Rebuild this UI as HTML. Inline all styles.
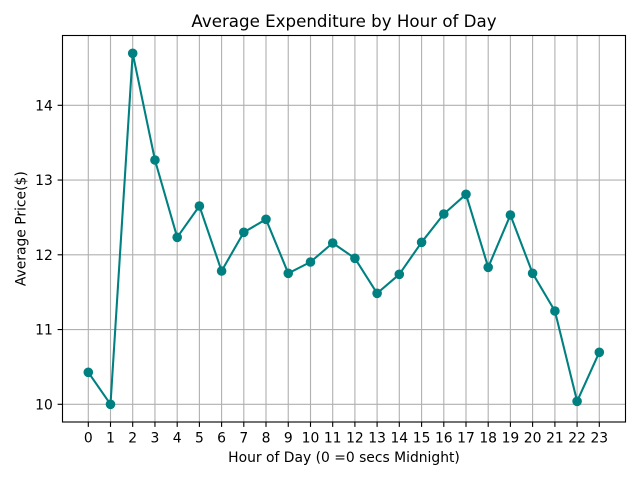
<!DOCTYPE html>
<html>
<head>
<meta charset="utf-8">
<style>
  html, body { margin: 0; padding: 0; background: #ffffff; }
  svg { display: block; }
  text { font-family: "DejaVu Sans", "Liberation Sans", sans-serif; fill: #000; }
</style>
</head>
<body>
<svg width="640" height="480" viewBox="0 0 640 480" xmlns="http://www.w3.org/2000/svg">
  <rect x="0" y="0" width="640" height="480" fill="#ffffff"/>
  <!-- vertical grid -->
  <g stroke="#b0b0b0" stroke-width="1.11">
    <line x1="88.3" y1="35.5" x2="88.3" y2="422"/>
    <line x1="110.5" y1="35.5" x2="110.5" y2="422"/>
    <line x1="132.7" y1="35.5" x2="132.7" y2="422"/>
    <line x1="154.95" y1="35.5" x2="154.95" y2="422"/>
    <line x1="177.2" y1="35.5" x2="177.2" y2="422"/>
    <line x1="199.4" y1="35.5" x2="199.4" y2="422"/>
    <line x1="221.6" y1="35.5" x2="221.6" y2="422"/>
    <line x1="243.8" y1="35.5" x2="243.8" y2="422"/>
    <line x1="266.0" y1="35.5" x2="266.0" y2="422"/>
    <line x1="288.25" y1="35.5" x2="288.25" y2="422"/>
    <line x1="310.5" y1="35.5" x2="310.5" y2="422"/>
    <line x1="332.7" y1="35.5" x2="332.7" y2="422"/>
    <line x1="354.9" y1="35.5" x2="354.9" y2="422"/>
    <line x1="377.1" y1="35.5" x2="377.1" y2="422"/>
    <line x1="399.3" y1="35.5" x2="399.3" y2="422"/>
    <line x1="421.6" y1="35.5" x2="421.6" y2="422"/>
    <line x1="443.8" y1="35.5" x2="443.8" y2="422"/>
    <line x1="466.0" y1="35.5" x2="466.0" y2="422"/>
    <line x1="488.2" y1="35.5" x2="488.2" y2="422"/>
    <line x1="510.4" y1="35.5" x2="510.4" y2="422"/>
    <line x1="532.6" y1="35.5" x2="532.6" y2="422"/>
    <line x1="554.9" y1="35.5" x2="554.9" y2="422"/>
    <line x1="577.1" y1="35.5" x2="577.1" y2="422"/>
    <line x1="599.3" y1="35.5" x2="599.3" y2="422"/>
  </g>
  <!-- horizontal grid -->
  <g stroke="#b0b0b0" stroke-width="1.11">
    <line x1="62.5" y1="404.3" x2="625.5" y2="404.3"/>
    <line x1="62.5" y1="329.55" x2="625.5" y2="329.55"/>
    <line x1="62.5" y1="254.8" x2="625.5" y2="254.8"/>
    <line x1="62.5" y1="180.05" x2="625.5" y2="180.05"/>
    <line x1="62.5" y1="105.3" x2="625.5" y2="105.3"/>
  </g>
  <!-- series -->
  <polyline fill="none" stroke="#008080" stroke-width="2.08" stroke-linejoin="round" stroke-linecap="square"
    points="88.3,372.3 110.5,404.3 132.7,53.3 154.95,160 177.2,237.3 199.4,206 221.6,271 243.8,232.3 266.0,219.3 288.25,273.3 310.5,262 332.7,243 354.9,258.3 377.1,293.3 399.3,274.3 421.6,242.3 443.8,214 466.0,194.3 488.2,267.3 510.4,215 532.6,273.3 554.9,311 577.1,401.3 599.3,352.3"/>
  <g fill="#008080">
    <circle cx="88.3" cy="372.3" r="4.8"/>
    <circle cx="110.5" cy="404.3" r="4.8"/>
    <circle cx="132.7" cy="53.3" r="4.8"/>
    <circle cx="154.95" cy="160" r="4.8"/>
    <circle cx="177.2" cy="237.3" r="4.8"/>
    <circle cx="199.4" cy="206" r="4.8"/>
    <circle cx="221.6" cy="271" r="4.8"/>
    <circle cx="243.8" cy="232.3" r="4.8"/>
    <circle cx="266.0" cy="219.3" r="4.8"/>
    <circle cx="288.25" cy="273.3" r="4.8"/>
    <circle cx="310.5" cy="262" r="4.8"/>
    <circle cx="332.7" cy="243" r="4.8"/>
    <circle cx="354.9" cy="258.3" r="4.8"/>
    <circle cx="377.1" cy="293.3" r="4.8"/>
    <circle cx="399.3" cy="274.3" r="4.8"/>
    <circle cx="421.6" cy="242.3" r="4.8"/>
    <circle cx="443.8" cy="214" r="4.8"/>
    <circle cx="466.0" cy="194.3" r="4.8"/>
    <circle cx="488.2" cy="267.3" r="4.8"/>
    <circle cx="510.4" cy="215" r="4.8"/>
    <circle cx="532.6" cy="273.3" r="4.8"/>
    <circle cx="554.9" cy="311" r="4.8"/>
    <circle cx="577.1" cy="401.3" r="4.8"/>
    <circle cx="599.3" cy="352.3" r="4.8"/>
  </g>
  <!-- spines -->
  <rect x="62.5" y="35.5" width="563" height="386.5" fill="none" stroke="#000" stroke-width="1.11"/>
  <!-- x ticks -->
  <g stroke="#000" stroke-width="1.11">
    <line x1="88.3" y1="422" x2="88.3" y2="426.9"/>
    <line x1="110.5" y1="422" x2="110.5" y2="426.9"/>
    <line x1="132.7" y1="422" x2="132.7" y2="426.9"/>
    <line x1="154.95" y1="422" x2="154.95" y2="426.9"/>
    <line x1="177.2" y1="422" x2="177.2" y2="426.9"/>
    <line x1="199.4" y1="422" x2="199.4" y2="426.9"/>
    <line x1="221.6" y1="422" x2="221.6" y2="426.9"/>
    <line x1="243.8" y1="422" x2="243.8" y2="426.9"/>
    <line x1="266.0" y1="422" x2="266.0" y2="426.9"/>
    <line x1="288.25" y1="422" x2="288.25" y2="426.9"/>
    <line x1="310.5" y1="422" x2="310.5" y2="426.9"/>
    <line x1="332.7" y1="422" x2="332.7" y2="426.9"/>
    <line x1="354.9" y1="422" x2="354.9" y2="426.9"/>
    <line x1="377.1" y1="422" x2="377.1" y2="426.9"/>
    <line x1="399.3" y1="422" x2="399.3" y2="426.9"/>
    <line x1="421.6" y1="422" x2="421.6" y2="426.9"/>
    <line x1="443.8" y1="422" x2="443.8" y2="426.9"/>
    <line x1="466.0" y1="422" x2="466.0" y2="426.9"/>
    <line x1="488.2" y1="422" x2="488.2" y2="426.9"/>
    <line x1="510.4" y1="422" x2="510.4" y2="426.9"/>
    <line x1="532.6" y1="422" x2="532.6" y2="426.9"/>
    <line x1="554.9" y1="422" x2="554.9" y2="426.9"/>
    <line x1="577.1" y1="422" x2="577.1" y2="426.9"/>
    <line x1="599.3" y1="422" x2="599.3" y2="426.9"/>
  </g>
  <!-- y ticks -->
  <g stroke="#000" stroke-width="1.11">
    <line x1="57.6" y1="404.3" x2="62.5" y2="404.3"/>
    <line x1="57.6" y1="329.55" x2="62.5" y2="329.55"/>
    <line x1="57.6" y1="254.8" x2="62.5" y2="254.8"/>
    <line x1="57.6" y1="180.05" x2="62.5" y2="180.05"/>
    <line x1="57.6" y1="105.3" x2="62.5" y2="105.3"/>
  </g>
  <!-- x tick labels -->
  <g font-size="13.89" text-anchor="middle">
    <text x="88.3" y="442.3">0</text>
    <text x="110.5" y="442.3">1</text>
    <text x="132.7" y="442.3">2</text>
    <text x="154.95" y="442.3">3</text>
    <text x="177.2" y="442.3">4</text>
    <text x="199.4" y="442.3">5</text>
    <text x="221.6" y="442.3">6</text>
    <text x="243.8" y="442.3">7</text>
    <text x="266.0" y="442.3">8</text>
    <text x="288.25" y="442.3">9</text>
    <text x="310.5" y="442.3">10</text>
    <text x="332.7" y="442.3">11</text>
    <text x="354.9" y="442.3">12</text>
    <text x="377.1" y="442.3">13</text>
    <text x="399.3" y="442.3">14</text>
    <text x="421.6" y="442.3">15</text>
    <text x="443.8" y="442.3">16</text>
    <text x="466.0" y="442.3">17</text>
    <text x="488.2" y="442.3">18</text>
    <text x="510.4" y="442.3">19</text>
    <text x="532.6" y="442.3">20</text>
    <text x="554.9" y="442.3">21</text>
    <text x="577.1" y="442.3">22</text>
    <text x="599.3" y="442.3">23</text>
  </g>
  <!-- y tick labels -->
  <g font-size="13.89" text-anchor="end">
    <text x="52.8" y="409.3">10</text>
    <text x="52.8" y="334.55">11</text>
    <text x="52.8" y="259.8">12</text>
    <text x="52.8" y="185.05">13</text>
    <text x="52.8" y="110.3">14</text>
  </g>
  <!-- axis labels -->
  <text x="344" y="462" font-size="13.89" text-anchor="middle">Hour of Day (0 =0 secs Midnight)</text>
  <text x="0" y="0" font-size="13.89" text-anchor="middle" transform="translate(25.5,228.7) rotate(-90)">Average Price($)</text>
  <!-- title -->
  <text x="344" y="27" font-size="16.67" text-anchor="middle">Average Expenditure by Hour of Day</text>
</svg>
</body>
</html>
